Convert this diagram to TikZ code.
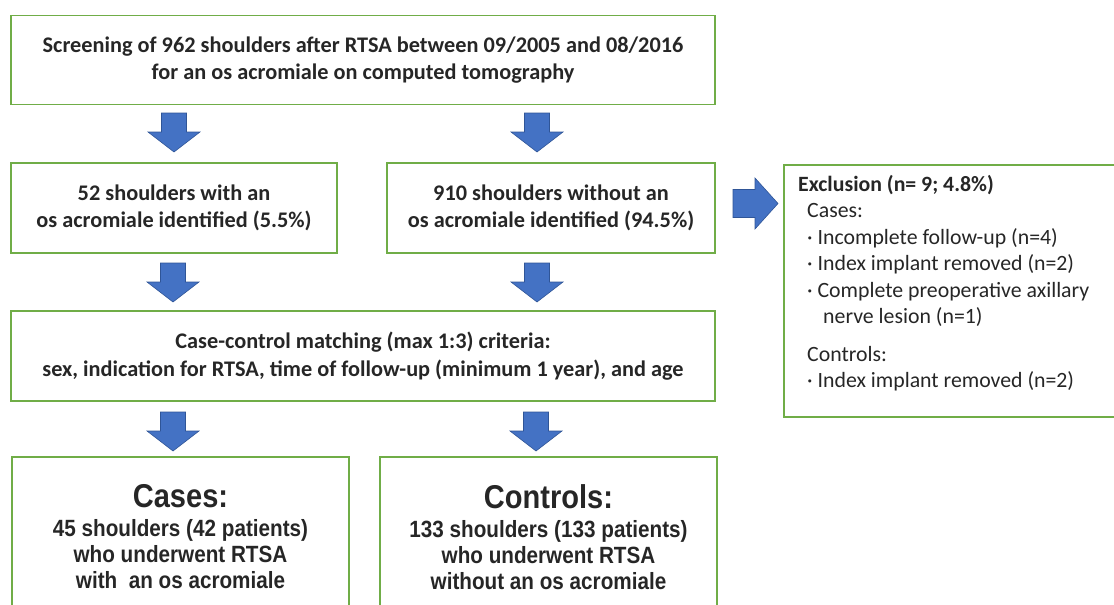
\documentclass[tikz,border=0pt]{standalone}
\usepackage{fontspec}
\setmainfont{Carlito}
\newfontfamily\narrowfont[FakeStretch=0.88]{Liberation Sans}
\definecolor{boxgreen}{RGB}{112,173,71}
\definecolor{arrowblue}{RGB}{68,114,196}
\definecolor{arrowedge}{RGB}{47,85,151}
\definecolor{textgray}{RGB}{38,38,38}
\usetikzlibrary{positioning}

% block arrows drawn as plain shapes
\newcommand{\blockdown}[3]{% x, top, name
  \draw[blockarrow] (#1-12.5,#2) -- (#1+12.5,#2) -- (#1+12.5,#2+19) -- (#1+26,#2+19)
    -- (#1,#2+39) -- (#1-26,#2+19) -- (#1-12.5,#2+19) -- cycle;
  \coordinate (#3) at (#1,#2+39);}

\begin{document}
\begin{tikzpicture}[x=1pt,y=-1pt,
    blockarrow/.style={fill=arrowblue,draw=arrowedge,line width=0.6pt,line join=miter},
    flowbox/.style={draw=boxgreen,line width=1.8pt,align=center,text=textgray,
      inner sep=0pt,font=\fontsize{22.3}{27.5}\selectfont\bfseries},
    groupbox/.style={draw=boxgreen,line width=1.8pt,anchor=north},
    grouptext/.style={anchor=north,align=center,text=textgray,inner sep=0pt,
      font=\narrowfont\fontsize{23.5}{26}\selectfont\bfseries}]
  \useasboundingbox (0,0) rectangle (1114,605);
  \begin{scope}
  \clip (0,0) rectangle (1114,605);

  % screening
  \node[flowbox,minimum width=704pt,minimum height=89pt] (screen) at (363,60)
    {Screening of 962 shoulders after RTSA between 09/2005 and 08/2016\\
     for an os acromiale on computed tomography};

  % with / without os acromiale
  \node[flowbox,minimum width=326pt,minimum height=90pt] (withos) at (174,208)
    {52 shoulders with an\\ os acromiale identified (5.5\%)};
  \node[flowbox,minimum width=328pt,minimum height=90pt] (withoutos) at (551,208)
    {910 shoulders without an\\ os acromiale identified (94.5\%)};

  % matching
  \node[flowbox,minimum width=704pt,minimum height=90pt] (match) at (363,356)
    {Case-control matching (max 1:3) criteria:\\
     sex, indication for RTSA, time of follow-up (minimum 1 year), and age};

  % exclusion
  \node[draw=boxgreen,line width=1.8pt,minimum width=331pt,minimum height=252pt,
    anchor=north west] (excl) at (783,164) {};
  \node[anchor=north west,align=left,text=textgray,inner sep=0pt,
    font=\fontsize{21.8}{26.5}\selectfont] (excltext) at (798,175)
    {\textbf{Exclusion (n= 9; 4.8\%)}\\
     \hspace{9pt}Cases:\\
     \hspace{9pt}· Incomplete follow-up (n=4)\\
     \hspace{9pt}· Index implant removed (n=2)\\
     \hspace{9pt}· Complete preoperative axillary\\
     \hspace{25pt}nerve lesion (n=1)\\[11pt]
     \hspace{9pt}Controls:\\
     \hspace{9pt}· Index implant removed (n=2)};

  % cases / controls
  \node[groupbox,minimum width=337pt,minimum height=170pt] (cases) at (180.5,456) {};
  \node[grouptext] (casestext) at (180.5,484)
    {{\fontsize{33}{29}\selectfont Cases:}\\[3pt]
     45 shoulders (42 patients)\\ who underwent RTSA\\ with\ \ an os acromiale};
  \node[groupbox,minimum width=337pt,minimum height=170pt] (controls) at (548.5,456) {};
  \node[grouptext] (controlstext) at (548.5,484)
    {{\fontsize{33}{29}\selectfont Controls:}\\[3pt]
     133 shoulders (133 patients)\\ who underwent RTSA\\ without an os acromiale};

  % arrows
  \blockdown{174}{113}{a1}
  \blockdown{537}{113}{a2}
  \blockdown{173}{263}{a3}
  \blockdown{537}{263}{a4}
  \blockdown{173}{412}{a5}
  \blockdown{536}{412}{a6}
  \draw[blockarrow] (733,189.5) -- (755,189.5) -- (755,178) -- (778,203.5)
    -- (755,229) -- (755,217.5) -- (733,217.5) -- cycle;
  \end{scope}
\end{tikzpicture}
\end{document}
